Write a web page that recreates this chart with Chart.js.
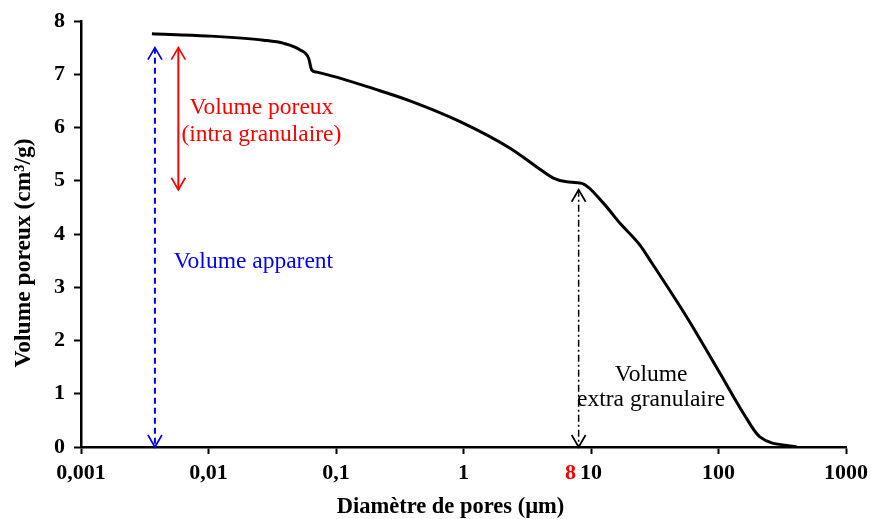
<!DOCTYPE html>
<html lang="fr">
<head>
<meta charset="UTF-8">
<title>Volume poreux – diamètre de pores</title>
<script src="https://cdn.jsdelivr.net/npm/chart.js@4"></script>
<style>
  html, body { margin: 0; padding: 0; background: #fff; }
</style>
</head>
<body>
<canvas id="courbe" width="871" height="519"></canvas>
<script>
  // Courbe d'intrusion : diamètre de pores (µm) et volume poreux cumulé (cm3/g)
  const diametres = [0.0036, 0.0097, 0.027, 0.039, 0.052, 0.061, 0.0645, 0.0706, 0.221, 0.38, 0.94, 2.32, 3.75, 5.07, 6.45, 8.5, 12.5, 16.9, 24.2, 29, 56, 103, 157, 211, 410];
  const volumes   = [7.76, 7.72, 7.64, 7.58, 7.46, 7.30, 7.08, 7.04, 6.69, 6.50, 6.11, 5.61, 5.26, 5.05, 4.98, 4.95, 4.58, 4.20, 3.79, 3.51, 2.45, 1.38, 0.63, 0.19, 0];

  const xTicks  = [0.001, 0.01, 0.1, 1, 10, 100, 1000];
  const xLabels = ['0,001', '0,01', '0,1', '1', '10', '100', '1000'];
  const yTicks  = [0, 1, 2, 3, 4, 5, 6, 7, 8];

  // diamètre de coupure intra / extra granulaire
  const diametreCoupure = 8;

  // flèches verticales : abscisse, volume bas, volume haut
  const flecheApparent = [0.0038, 0, 7.5];
  const flechePoreux   = [0.0058, 4.83, 7.5];
  const flecheExtra    = [diametreCoupure, 0, 4.83];

  const serif = "'Liberation Serif', 'Times New Roman', serif";

  function fleche(ctx, x, yHaut, yBas, couleur, tirets, largeur) {
    ctx.save();
    ctx.strokeStyle = couleur;
    ctx.lineWidth = largeur;
    ctx.setLineDash(tirets);
    ctx.beginPath();
    ctx.moveTo(x, yHaut);
    ctx.lineTo(x, yBas);
    ctx.stroke();
    ctx.setLineDash([]);
    ctx.lineWidth = 1.7;
    ctx.beginPath();
    ctx.moveTo(x - 7, yHaut + 12); ctx.lineTo(x, yHaut); ctx.lineTo(x + 7, yHaut + 12);
    ctx.moveTo(x - 7, yBas - 12); ctx.lineTo(x, yBas); ctx.lineTo(x + 7, yBas - 12);
    ctx.stroke();
    ctx.restore();
  }

  function texte(ctx, str, x, y, couleur, font) {
    ctx.save();
    ctx.font = font;
    ctx.fillStyle = couleur;
    ctx.textAlign = 'center';
    ctx.textBaseline = 'middle';
    ctx.fillText(str, x, y);
    ctx.restore();
  }

  const annotations = {
    id: 'annotations',
    afterDatasetsDraw(chart) {
      const { ctx, chartArea, scales: { x, y } } = chart;
      const normal = '23.5px ' + serif;

      fleche(ctx, x.getPixelForValue(flecheApparent[0]), y.getPixelForValue(flecheApparent[2]), y.getPixelForValue(flecheApparent[1]), '#0000ff', [6, 4], 2);
      fleche(ctx, x.getPixelForValue(flechePoreux[0]), y.getPixelForValue(flechePoreux[2]), y.getPixelForValue(flechePoreux[1]), '#ff0000', [], 2);
      fleche(ctx, x.getPixelForValue(flecheExtra[0]), y.getPixelForValue(flecheExtra[2]), y.getPixelForValue(flecheExtra[1]), '#000000', [7, 3, 2, 3], 1.5);

      texte(ctx, 'Volume poreux', x.getPixelForValue(0.026), y.getPixelForValue(6.37), '#ff0000', normal);
      texte(ctx, '(intra granulaire)', x.getPixelForValue(0.026), y.getPixelForValue(5.86), '#ff0000', normal);
      texte(ctx, 'Volume apparent', x.getPixelForValue(0.0225), y.getPixelForValue(3.47), '#0000ff', normal);
      texte(ctx, 'Volume', x.getPixelForValue(29.6), y.getPixelForValue(1.35), '#000000', normal);
      texte(ctx, 'extra granulaire', x.getPixelForValue(29.6), y.getPixelForValue(0.88), '#000000', normal);

      // graduation rouge du diamètre de coupure, calée à gauche du « 10 »
      ctx.save();
      ctx.font = 'bold 22px ' + serif;
      const demiDix = ctx.measureText('10').width / 2;
      ctx.fillStyle = '#ff0000';
      ctx.textAlign = 'right';
      ctx.textBaseline = 'middle';
      ctx.fillText(String(diametreCoupure), x.getPixelForValue(10) - demiDix - 4, chartArea.bottom + 26);
      ctx.restore();

      // titres des axes
      texte(ctx, 'Diamètre de pores (µm)', (chartArea.left + chartArea.right) / 2 - 13, 507, '#000000', 'bold 22.5px ' + serif);
      ctx.save();
      ctx.translate(24, 253);
      ctx.rotate(-Math.PI / 2);
      texte(ctx, 'Volume poreux (cm³/g)', 0, 0, '#000000', 'bold 23.5px ' + serif);
      ctx.restore();
    }
  };

  new Chart(document.getElementById('courbe'), {
    type: 'line',
    data: {
      datasets: [{
        data: diametres.map((d, i) => ({ x: d, y: volumes[i] })),
        borderColor: '#000',
        borderWidth: 3,
        borderJoinStyle: 'round',
        pointRadius: 0,
        cubicInterpolationMode: 'monotone',
        fill: false
      }]
    },
    options: {
      responsive: false,
      animation: false,
      layout: { padding: { top: 21, right: 25, left: 0, bottom: 0 } },
      plugins: { legend: { display: false }, tooltip: { enabled: false } },
      scales: {
        x: {
          type: 'logarithmic',
          min: 0.001,
          max: 1000,
          afterBuildTicks: s => { s.ticks = xTicks.map(v => ({ value: v })); },
          afterFit: s => { s.height = 72; s.paddingLeft = 0; s.paddingRight = 0; },
          ticks: {
            autoSkip: false,
            maxRotation: 0,
            padding: 6,
            color: '#000',
            font: { family: serif, size: 22, weight: 'bold' },
            callback: (v, i) => xLabels[i]
          },
          grid: { drawOnChartArea: false, tickLength: 7, tickWidth: 2, tickColor: '#000' },
          border: { color: '#000', width: 2.5 }
        },
        y: {
          min: 0,
          max: 8,
          afterBuildTicks: s => { s.ticks = yTicks.map(v => ({ value: v })); },
          afterFit: s => { s.width = 81; s.paddingTop = 0; s.paddingBottom = 0; },
          ticks: {
            padding: 9,
            color: '#000',
            font: { family: serif, size: 22, weight: 'bold' }
          },
          grid: { drawOnChartArea: false, tickLength: 7, tickWidth: 2, tickColor: '#000' },
          border: { color: '#000', width: 2.5 }
        }
      }
    },
    plugins: [annotations]
  });
</script>
</body>
</html>
